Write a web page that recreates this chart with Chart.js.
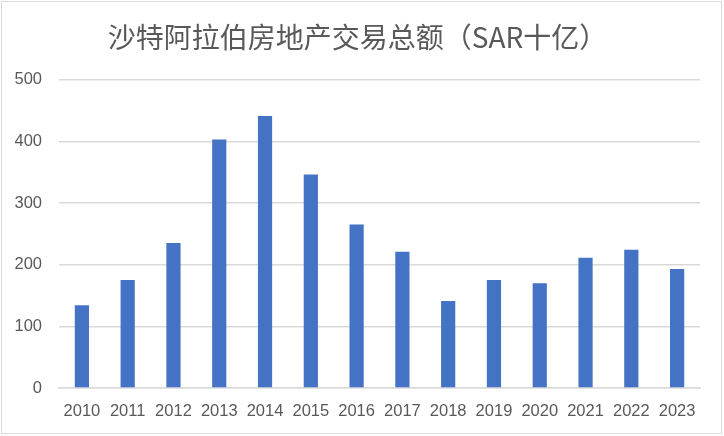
<!DOCTYPE html>
<html lang="zh">
<head>
    <meta charset="UTF-8" />
    <title>沙特阿拉伯房地产交易总额</title>
    <script src="https://cdn.jsdelivr.net/npm/chart.js"></script>
    <style>
        html, body { margin: 0; padding: 0; background: #fff; }
        canvas { display: block; }
    </style>
</head>
<body>
    <canvas id="chart" width="724" height="436"></canvas>

    <script>
        // Daten (SAR Milliarden)
        const years = ['2010', '2011', '2012', '2013', '2014', '2015', '2016',
                       '2017', '2018', '2019', '2020', '2021', '2022', '2023'];
        const values = [134, 175, 235, 403, 441, 346, 265, 221, 141, 175, 170, 211, 224, 193];
        const yTicks = [0, 100, 200, 300, 400, 500];

        const textColor = '#595959';
        const gridColor = '#d9d9d9';
        const tickFont = { family: '"Liberation Sans", sans-serif', size: 16.5 };

        // Rahmen um das ganze Diagramm
        const frame = {
            id: 'frame',
            beforeDraw(chart) {
                const c = chart.ctx;
                c.save();
                c.fillStyle = '#fff';
                c.fillRect(0, 0, chart.width, chart.height);
                c.strokeStyle = gridColor;
                c.lineWidth = 1;
                c.strokeRect(1.5, 1.5, 720, 432);
                c.restore();
            }
        };

        new Chart(document.getElementById('chart').getContext('2d'), {
            type: 'bar',
            data: {
                labels: years,
                datasets: [{
                    data: values,
                    backgroundColor: '#4472c4',
                    categoryPercentage: 1.0,
                    barPercentage: 0.31
                }]
            },
            options: {
                responsive: false,
                animation: false,
                layout: { padding: { left: 15, right: 24, top: 10, bottom: 15 } },
                plugins: {
                    legend: { display: false },
                    tooltip: { enabled: false },
                    title: {
                        display: true,
                        text: '沙特阿拉伯房地产交易总额（SAR十亿）',
                        color: textColor,
                        font: { family: '"Noto Sans CJK SC", sans-serif', size: 28, weight: 'normal', lineHeight: 1.2 },
                        padding: { top: 11, bottom: 25 }
                    }
                },
                scales: {
                    x: {
                        afterFit(axis) { axis.height = 33; },
                        grid: { display: false, drawTicks: false },
                        border: { display: true, color: gridColor, width: 1.5 },
                        ticks: {
                            color: textColor,
                            padding: 14,
                            maxRotation: 0,
                            autoSkip: false,
                            font: tickFont
                        }
                    },
                    y: {
                        min: 0,
                        max: 500,
                        afterFit(axis) { axis.width = 44; },
                        afterBuildTicks(axis) { axis.ticks = yTicks.map(v => ({ value: v })); },
                        grid: { color: gridColor, lineWidth: 1.5, drawTicks: false },
                        border: { display: false },
                        ticks: {
                            color: textColor,
                            padding: 17,
                            font: tickFont
                        }
                    }
                }
            },
            plugins: [frame]
        });
    </script>
</body>
</html>
